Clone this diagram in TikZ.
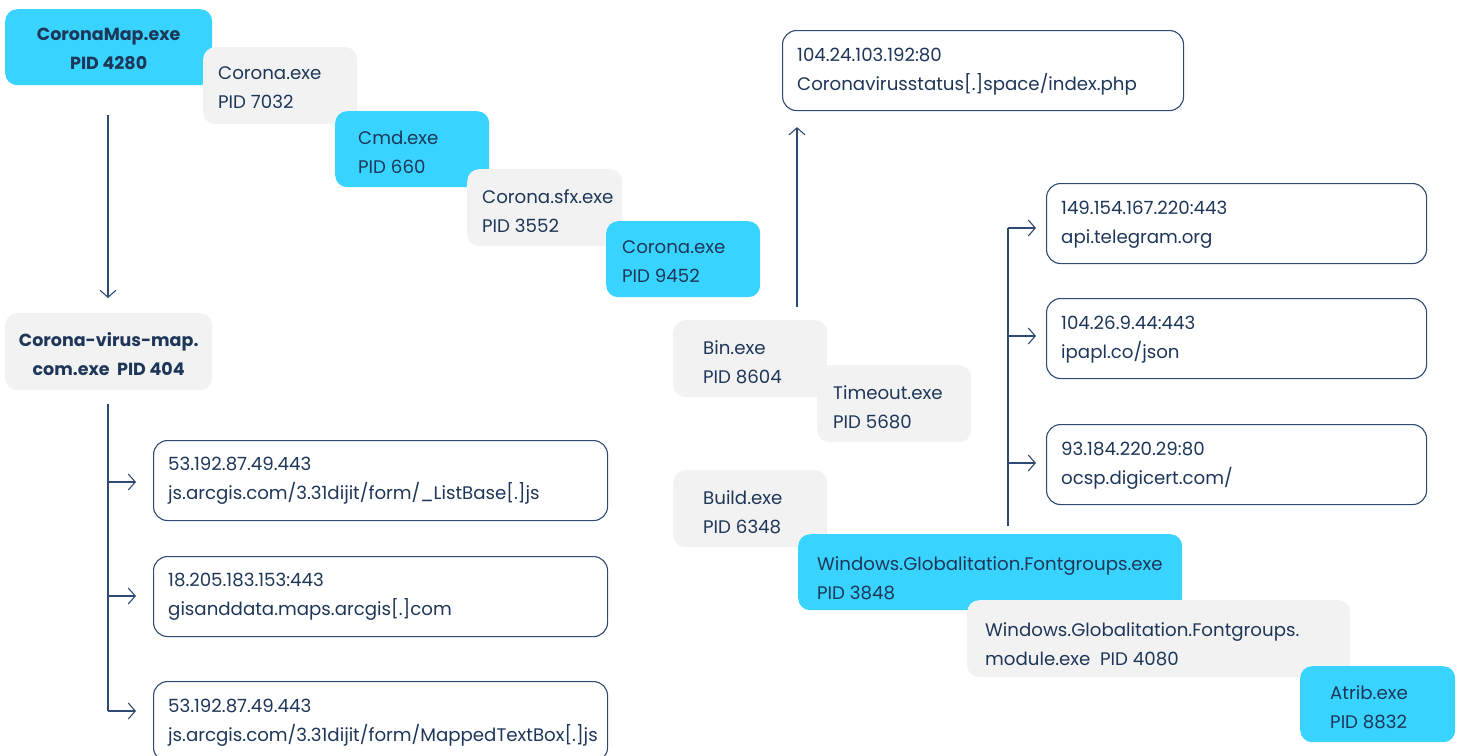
\documentclass[tikz,border=0pt]{standalone}
\usepackage{fontspec}
\setmainfont{Poppins}
\usetikzlibrary{arrows.meta}
\definecolor{cyanbox}{HTML}{38D4FF}
\definecolor{graybox}{HTML}{F2F2F2}
\definecolor{ink}{HTML}{1E3658}
\definecolor{wire}{HTML}{2E4A72}
\tikzset{
  procbox/.style={rectangle, rounded corners=12pt, anchor=north west, inner sep=0pt},
  hotbox/.style={procbox, fill=cyanbox},
  coolbox/.style={procbox, fill=graybox},
  netbox/.style={rectangle, rounded corners=14pt, anchor=north west, inner sep=0pt,
    draw=wire, line width=1.1pt, fill=white},
  txt/.style={anchor=west, align=left, inner sep=0pt, text=ink,
    font=\fontsize{18.2}{29}\selectfont},
  boldtxt/.style={anchor=center, align=center, inner sep=0pt, text=ink,
    font=\fontsize{17.5}{29}\selectfont\bfseries},
  link/.style={draw=wire, line width=1.1pt},
  tip/.style={-{Straight Barb[length=7pt,width=16pt,line width=1.1pt]}}
}
\begin{document}
\begin{tikzpicture}[x=1pt,y=-1pt]
\useasboundingbox (0,0) rectangle (1461,755);

% --- process chain, upper left ---
\node[hotbox, minimum width=207, minimum height=76] (p4280) at (5,9) {};
\node[boldtxt] (p4280t) at ([yshift=-1.5pt]p4280.center) {CoronaMap.exe\\PID 4280};
\node[coolbox, minimum width=154, minimum height=77] (p7032) at (203,47) {};
\node[txt] (p7032t) at (218,88) {Corona.exe\\PID 7032};
\node[hotbox, minimum width=154, minimum height=76] (p660) at (335,111) {};
\node[txt] (p660t) at (358,152.5) {Cmd.exe\\PID 660};
\node[coolbox, minimum width=155, minimum height=77] (p3552) at (467,169) {};
\node[txt] (p3552t) at (482,211) {Corona.sfx.exe\\PID 3552};
\node[hotbox, minimum width=154, minimum height=76] (p9452) at (606,221) {};
\node[txt] (p9452t) at (622,262) {Corona.exe\\PID 9452};

% --- dropped map executable and its connections ---
\node[coolbox, minimum width=207, minimum height=77] (p404) at (5,313) {};
\node[boldtxt] (p404t) at ([yshift=-2pt]p404.center) {Corona-virus-map.\\com.exe\ \ PID 404};

\node[netbox, minimum width=454, minimum height=80] (n1) at (153,440) {};
\node[txt] (n1t) at (168,481) {53.192.87.49.443\\js.arcgis.com/3.31dijit/form/\_ListBase[.]js};
\node[netbox, minimum width=454, minimum height=80] (n2) at (153,556) {};
\node[txt] (n2t) at (168,597) {18.205.183.153:443\\gisanddata.maps.arcgis[.]com};
\node[netbox, minimum width=454, minimum height=80] (n3) at (153,681) {};
\node[txt] (n3t) at (168,722.5) {53.192.87.49.443\\js.arcgis.com/3.31dijit/form/MappedTextBox[.]js};

\coordinate (a1) at (108,115);
\coordinate (a2) at (108,298);
\draw[link, tip] (a1) -- (a2);
\coordinate (b0) at (108,404);
\coordinate (b1) at (108,482);
\coordinate (b2) at (108,596);
\coordinate (b3) at (108,711);
\draw[link] (b0) -- (b3);
\draw[link, tip] (b1) -- ([xshift=-17pt]n1.west |- b1);
\draw[link, tip] (b2) -- ([xshift=-17pt]n2.west |- b2);
\draw[link, tip] (b3) -- ([xshift=-17pt]n3.west |- b3);

% --- bin.exe and its beacon ---
\node[coolbox, minimum width=154, minimum height=77] (p8604) at (673,320) {};
\node[txt] (p8604t) at (703,362) {Bin.exe\\PID 8604};
\node[coolbox, minimum width=154, minimum height=77] (p5680) at (817,365) {};
\node[txt] (p5680t) at (833,407) {Timeout.exe\\PID 5680};

\node[netbox, minimum width=401, minimum height=80] (c2) at (782,30) {};
\node[txt] (c2t) at (797,72) {104.24.103.192:80\\Coronavirusstatus[.]space/index.php};
\coordinate (u1) at (797,307);
\draw[link, tip] (u1) -- ([yshift=-16pt]c2.south -| u1);

% --- build.exe chain ---
\node[coolbox, minimum width=154, minimum height=77] (p6348) at (673,470) {};
\node[txt] (p6348t) at (703,512) {Build.exe\\PID 6348};

\node[netbox, minimum width=380, minimum height=80] (r1) at (1046,183) {};
\node[txt] (r1t) at (1061,224.5) {149.154.167.220:443\\api.telegram.org};
\node[netbox, minimum width=380, minimum height=80] (r2) at (1046,298) {};
\node[txt] (r2t) at (1061,340) {104.26.9.44:443\\ipapl.co/json};
\node[netbox, minimum width=380, minimum height=80] (r3) at (1046,424) {};
\node[txt] (r3t) at (1061,466) {93.184.220.29:80\\ocsp.digicert.com/};

\coordinate (v0) at (1008,526);
\coordinate (v1) at (1008,228);
\coordinate (v2) at (1008,336);
\coordinate (v3) at (1008,463);
\draw[link] (v0) -- (v1);
\draw[link, tip] (v1) -- ([xshift=-10pt]r1.west |- v1);
\draw[link, tip] (v2) -- ([xshift=-10pt]r2.west |- v2);
\draw[link, tip] (v3) -- ([xshift=-10pt]r3.west |- v3);

\node[hotbox, minimum width=384, minimum height=76] (p3848) at (798,534) {};
\node[txt] (p3848t) at (817,578) {Windows.Globalitation.Fontgroups.exe\\PID 3848};
\node[coolbox, minimum width=383, minimum height=77] (p4080) at (967,600) {};
\node[txt] (p4080t) at (985,644.5) {Windows.Globalitation.Fontgroups.\\module.exe\ \ PID 4080};
\node[hotbox, minimum width=155, minimum height=76] (p8832) at (1300,666) {};
\node[txt] (p8832t) at (1330,707) {Atrib.exe\\PID 8832};
\end{tikzpicture}
\end{document}
